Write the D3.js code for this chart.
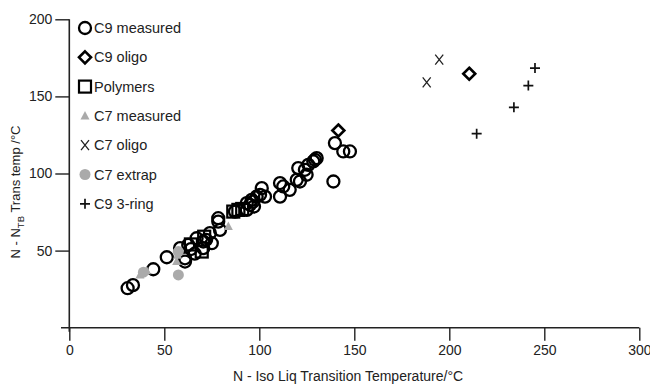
<!DOCTYPE html>
<html>
<head>
<meta charset="utf-8">
<script src="https://cdn.jsdelivr.net/npm/d3@7"></script>
<style>
  body { margin: 0; background: #fff; }
  text { font-family: "Liberation Sans", Arial, sans-serif; fill: #222; }
</style>
</head>
<body>
<svg id="chart" width="650" height="384"></svg>
<script>
// values, [x, y]
const c9Measured = [
  [30.7,25.6],[33.5,27.6],[44.2,37.9],[51.3,45.7],[58.3,51.6],[60.9,45.0],[60.9,42.9],
  [62.6,53.7],[64,51],[66,48],[67,58],[70.5,55.9],[70.5,51.6],[72,57],[74,61.3],[75,54.8],
  [78.4,68.8],[79.3,63.4],[78.4,71],[87.2,75.3],[93.4,76.4],[93.4,80.8],[95.1,79.7],[96,82.9],
  [96.8,81.8],[97.2,78.6],[98.6,85],[100.4,86.2],[101.3,90.5],[103,85],[110.9,85],[110.9,93.8],
  [112.6,91.6],[116,89.4],[119.7,95.9],[120.5,103.5],[121.4,94.8],[124,102.4],[124.9,99.2],
  [125.8,105.6],[128.4,107.8],[129.3,108.9],[130.2,110],[139,94.8],[139.8,119.7],
  [144.2,114.3],[147.7,114.3]
];
const polymers = [[64,54],[69.7,49.4],[71,59],[86.3,75.3],[89,76.4],[91,77]];
const c7Measured = [[37.2,34.2],[40.7,37],[56.5,42.9],[57,47],[83.7,65.6]];
const c7Extrap = [[39,36],[57.4,34.2],[57.4,49.4]];
const c9Oligo = [[141.6,127.9],[210.5,164.7]];
const c7Oligo = [[194.7,173.8],[188.1,159.1]];
const c9ThreeRing = [[245.1,168.4],[241.6,157],[234,142.9],[214.4,125.8]];

const xTicks = [0, 50, 100, 150, 200, 250, 300];
const yTicks = [50, 100, 150, 200];
const legendLabels = ["C9 measured", "C9 oligo", "Polymers", "C7 measured", "C7 oligo", "C7 extrap", "C9 3-ring"];

const svg = d3.select("#chart");
const grey = "#aaa";

const x = d3.scaleLinear().domain([0, 300]).range([69.3, 639.3]);
const y = d3.scaleLinear().domain([0, 200]).range([327.7, 19.3]);

// axes
const xAxis = svg.append("g")
  .attr("transform", `translate(0,${y(0)})`)
  .call(d3.axisBottom(x).tickValues(xTicks).tickSize(13).tickSizeOuter(0).tickPadding(4));
xAxis.select(".domain").remove();
svg.append("line")
  .attr("x1", 61).attr("x2", x(300))
  .attr("y1", y(0)).attr("y2", y(0))
  .attr("stroke", "#222").attr("stroke-width", 1.6);

const yAxis = svg.append("g")
  .attr("transform", `translate(${x(0)},0)`)
  .call(d3.axisLeft(y).tickValues(yTicks).tickSize(14).tickSizeOuter(0).tickPadding(3));
yAxis.select(".domain").remove();
svg.append("line")
  .attr("x1", x(0)).attr("x2", x(0))
  .attr("y1", y(200)).attr("y2", y(0) + 4)
  .attr("stroke", "#222").attr("stroke-width", 1.6);

svg.selectAll(".tick line").attr("stroke", "#222").attr("stroke-width", 1.4);
svg.selectAll(".tick text").attr("font-size", 14).attr("fill", "#222")
  .style("font-family", "'Liberation Sans', Arial, sans-serif");

// axis titles
svg.append("text")
  .attr("x", 348).attr("y", 381)
  .attr("text-anchor", "middle").attr("font-size", 14)
  .text("N - Iso Liq Transition Temperature/°C");

const yt = svg.append("text")
  .attr("transform", "translate(20,192) rotate(-90)")
  .attr("text-anchor", "middle").attr("font-size", 13);
yt.append("tspan").text("N - N");
yt.append("tspan").attr("font-size", 9.5).attr("dy", 4).text("TB");
yt.append("tspan").attr("dy", -4).text(" Trans temp /°C");

// marker drawers
const sym = {
  circle: (g) => g.append("circle").attr("r", 6).attr("fill", "none").attr("stroke", "#000").attr("stroke-width", 2.3),
  diamond: (g) => g.append("path").attr("d", "M0,-6L6,0L0,6L-6,0Z").attr("fill", "none").attr("stroke", "#000").attr("stroke-width", 2.6),
  square: (g) => g.append("rect").attr("x", -6).attr("y", -6).attr("width", 12).attr("height", 12)
    .attr("fill", "none").attr("stroke", "#000").attr("stroke-width", 2.2),
  triangle: (g) => g.append("path").attr("d", "M0,-5L4.5,3.5L-4.5,3.5Z").attr("fill", grey),
  dot: (g) => g.append("circle").attr("r", 5.5).attr("fill", grey),
  cross: (g) => g.append("path").attr("d", "M-4,-5L4,5M4,-5L-4,5").attr("stroke", "#222").attr("stroke-width", 1.3).attr("fill", "none"),
  plus: (g) => g.append("path").attr("d", "M-5,0H5M0,-5V5").attr("stroke", "#111").attr("stroke-width", 1.7).attr("fill", "none")
};

function drawSeries(data, kind) {
  const g = svg.append("g");
  data.forEach(d => {
    const m = g.append("g").attr("transform", `translate(${x(d[0])},${y(d[1])})`);
    sym[kind](m);
  });
}

drawSeries(c9Measured, "circle");
drawSeries(polymers, "square");
drawSeries(c7Measured, "triangle");
drawSeries(c7Extrap, "dot");
drawSeries(c9Oligo, "diamond");
drawSeries(c7Oligo, "cross");
drawSeries(c9ThreeRing, "plus");

// legend
const legendKinds = ["circle", "diamond", "square", "triangle", "cross", "dot", "plus"];
legendLabels.forEach((lab, i) => {
  const ly = 28 + i * 29.3;
  const m = svg.append("g").attr("transform", `translate(85,${ly})`);
  sym[legendKinds[i]](m);
  svg.append("text").attr("x", 94).attr("y", ly + 5).attr("font-size", 14.5).text(lab);
});
</script>
</body>
</html>
